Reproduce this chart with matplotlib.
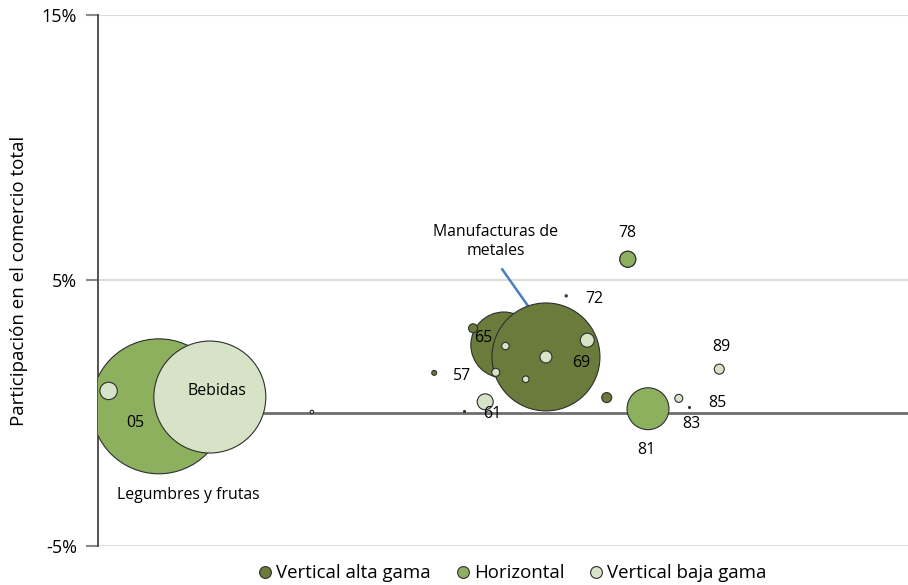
import matplotlib.pyplot as plt
from matplotlib.lines import Line2D

plt.rcParams['font.family'] = ['Open Sans', 'DejaVu Sans']

# bubble data (x: position on the horizontal scale, y: share of total trade %, w: trade value)
grupo = ['H', 'B', 'B', 'A', 'A', 'H', 'B', 'B', 'B', 'B', 'B', 'B',
         'A', 'A', 'A', 'B', 'H', 'A', 'B', 'B', 'B']
pos_x = [7.5, 13.8, 1.3, 50.1, 55.3, 67.9, 47.8, 65.4, 60.4, 55.3, 76.7, 50.3,
         46.3, 62.8, 41.5, 49.1, 65.4, 57.8, 52.8, 71.7, 26.4]
pos_y = [0.26, 0.61, 0.84, 2.57, 2.12, 0.17, 0.43, 5.80, 2.75, 2.12, 1.66, 2.53,
         3.20, 0.59, 1.52, 1.54, 5.80, 4.42, 1.28, 0.56, 0.05]
valor = [456, 314, 7.6, 109, 292, 44, 6.4, 6.4, 4.9, 3.6, 2.5, 1.4,
         2.0, 2.5, 0.6, 1.6, 6.4, 0.12, 1.1, 1.6, 0.3]
# small dots 61 and 83
dot_x = [45.2, 72.9]
dot_y = [0.08, 0.23]

colores = {'A': '#6b7b3b', 'H': '#8db05f', 'B': '#d7e3c6'}
leyenda = [('A', 'Vertical alta gama'), ('H', 'Horizontal'), ('B', 'Vertical baja gama')]

etiquetas = ['05', 'Bebidas', 'Legumbres y frutas', '57', '61', '65', '69',
             '72', '78', '81', '83', '85', '89']
etq_x = [4.6, 14.7, 11.2, 44.9, 48.7, 47.6, 59.7, 61.3, 65.3, 67.7, 73.3, 76.5, 77.0]
etq_y = [-0.37, 0.84, -3.08, 1.42, -0.04, 2.82, 1.88, 4.32, 6.80, -1.38, -0.40, 0.38, 2.51]

fig = plt.figure(figsize=(9.08, 5.85), dpi=100)
ax = fig.add_axes([0.108, 0.0667, 0.892, 0.9077])

ax.set_xlim(0, 100)
ax.set_ylim(-5, 15)

for yg in [-5, 5, 15]:
    ax.axhline(yg, color='#dcdcdc', lw=1.5, zorder=0)
ax.axhline(0, color='#6e6e6e', lw=2, zorder=1)

tam = [v * 20.7 for v in valor]
ax.scatter(pos_x, pos_y, s=tam, c=[colores[g] for g in grupo],
           edgecolors='#2e2e2e', linewidths=0.8, zorder=3)
ax.scatter(dot_x, dot_y, s=1.5, c='#2e2e2e', zorder=3)

for t, tx, ty in zip(etiquetas, etq_x, etq_y):
    ax.text(tx, ty, t, fontsize=11.4, ha='center', va='center', zorder=4)

ax.text(49.1, 6.46, 'Manufacturas de\nmetales', fontsize=11.4, ha='center',
        va='center', linespacing=1.25)
ax.plot([49.9, 53.2], [5.42, 3.99], color='#4a7fc0', lw=1.8, zorder=2)

ax.set_yticks([-5, 5, 15])
ax.set_yticklabels(['-5%', '5%', '15%'])
ax.set_xticks([])
ax.tick_params(axis='y', length=9, width=1.5, color='#8a8a8a', labelsize=13, pad=6)
for s in ['top', 'right', 'bottom']:
    ax.spines[s].set_visible(False)
ax.spines['left'].set_color('#444444')
ax.spines['left'].set_linewidth(1.3)

ax.set_ylabel('Participación en el comercio total', fontsize=13.5, labelpad=10)

handles = [Line2D([], [], marker='o', ls='', markersize=8.5, markerfacecolor=colores[g],
                  markeredgecolor='#2e2e2e', markeredgewidth=0.8) for g, _ in leyenda]
fig.legend(handles, [l for _, l in leyenda], loc='lower center', bbox_to_anchor=(0.563, -0.024),
           ncol=3, frameon=False, fontsize=13.4, handletextpad=0.1, columnspacing=1.2,
           handlelength=1.0)

fig.savefig('out.png', dpi=100)
